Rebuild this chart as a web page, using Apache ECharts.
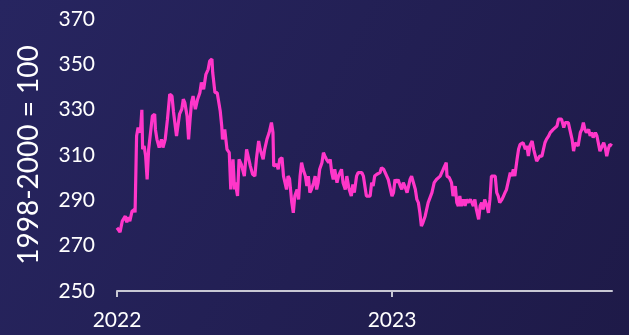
<!DOCTYPE html>
<html>
<head>
<meta charset="utf-8">
<script src="https://cdn.jsdelivr.net/npm/echarts@6/dist/echarts.min.js"></script>
<style>
html,body{margin:0;padding:0;background:#231f52;}
#chart{width:629px;height:335px;}
</style>
</head>
<body>
<div id="chart"></div>
<script>
// Days since 2022-01-01
const dayIndex = [0,4,7,11,13,15,17,20,23,24,26,28,31,33,34,36,38,40,42,44,47,50,51,53,56,59,61,64,67,70,73,75,79,83,86,88,90,93,95,97,99,101,104,107,110,112,115,118,121,123,126,127,130,133,137,139,140,143,146,149,151,154,156,157,160,162,165,169,172,175,177,180,183,185,188,190,192,194,196,199,202,205,207,208,212,214,216,219,221,223,225,227,229,232,234,236,239,241,243,245,247,250,252,254,256,258,261,263,265,267,269,272,274,276,278,281,283,285,287,289,292,294,296,298,300,303,305,308,311,313,315,318,320,325,327,329,331,333,336,338,340,342,345,347,349,351,354,356,358,360,362,365,367,369,371,373,376,378,380,382,385,387,389,391,393,396,398,400,402,404,406,409,413,418,421,424,429,431,433,437,438,441,444,446,449,451,453,455,457,460,462,464,466,469,471,473,475,477,480,482,484,486,488,491,493,495,497,499,502,504,506,508,511,513,515,517,519,522,524,526,528,531,533,535,537,539,542,544,546,548,551,553,555,557,559,561,564,566,568,570,573,575,577,579,581,584,586,588,590,593,595,597,599,601,604,606,608,610,612,615,617,619,621,623,626,628,630,632,635,637,639,641,643,646,648,650,652,654,657];
const indexValues = [277.9,276,280.8,283,280.3,282.5,280.8,285.2,286,284.7,318.4,322.1,319.9,329.9,312.5,314,309.5,299.2,312.5,318.4,327.2,328,321.3,316.9,313.3,316.9,313.3,316.9,325.8,336.8,336,329,318.4,328,330.2,334.6,333.1,327.2,316.9,325.8,333.3,336,330.2,334.6,337.5,342,339,345.6,347.8,351.5,352.3,346.4,337.5,337.5,329.4,322.8,316.9,321.3,312.5,311,294.8,308.1,294.8,297.9,291.9,308.1,305.9,300.7,312.5,308.1,305.1,301.5,300.7,308.1,316.2,312.5,312.5,308.1,312.5,316.9,319.9,324.3,319.9,305.1,305.9,303.7,308.1,308.8,300.7,297.8,294.8,300.7,299.5,289,284.5,291.9,294.8,290.4,300.7,306.6,303.7,300.7,296.3,300.7,293.4,294.8,297.8,300.7,294.8,297.8,303.7,306.6,311,309.5,308.1,306.6,308.1,302.2,299.2,303.7,297.8,300.7,302.2,303.7,297.8,294.8,300.7,295,291.9,297,293.4,300.7,302.2,302.2,300.7,300.7,291.9,291.2,291.9,297.8,296.3,300.7,301.5,300.7,302.2,304.4,303.7,303.7,300.7,299.2,296.3,291.9,293.4,299.2,297.8,299.2,296.3,294.8,297.8,296.3,293.4,296.3,299.2,300.7,300.7,294.8,290.4,289,284.5,278.6,280.1,283,289,293.4,297.8,299.2,300.7,302.2,303.7,306.6,300.7,300,297.8,291.9,296.3,289,287.5,291.9,287.5,290.4,287.5,290.4,289,290.4,289,287.5,290.4,286,281.6,287.5,289,286,290.4,287.5,284.5,290.4,300.7,301.5,300.7,293.4,291.9,289,290.4,291.9,293.4,294.8,297.8,302.2,300.7,303.7,300.7,308.1,312.5,314.7,314,315.4,312.5,314,309.5,314,316.2,312.5,312.5,307.3,307.3,309.5,309.5,312.5,315.4,316.9,318.4,319.9,320.6,321.3,321.3,322.8,325.8,326.5,325.8,322.1,324.3,323.5,324.3,321.3,316.9,311.7,315.4,314.7,314,319.9,321.3,324.3,321.3,319.9,321.3,318.4,319.9,317.7,319.9,318.4,318.4,311.7,311,315.4,313.3,309.5,312.5,314.7,314];
const yearTicks = [0, 365];
const yearLabels = ['2022', '2023'];
const yAxisTitle = '1998-2000 = 100';

const chart = echarts.init(document.getElementById('chart'), null, {renderer: 'canvas'});
const seriesData = dayIndex.map((d, i) => [d, indexValues[i]]);

chart.setOption({
  animation: false,
  backgroundColor: {
    type: 'linear', x: 0, y: 0, x2: 1, y2: 1,
    colorStops: [{offset: 0, color: '#272560'}, {offset: 1, color: '#1e1a48'}]
  },
  grid: {left: 117, right: 17, top: 19, bottom: 44, containLabel: false},
  xAxis: {
    type: 'value',
    min: 0,
    max: 657,
    interval: 365,
    axisLine: {show: true, lineStyle: {color: '#c8c8d4', width: 2}},
    axisTick: {show: true, length: 6, customValues: yearTicks, lineStyle: {color: '#c8c8d4', width: 2}},
    axisLabel: {
      customValues: yearTicks,
      margin: 19,
      color: '#ffffff',
      fontFamily: 'Lato',
      fontSize: 21,
      formatter: v => yearLabels[yearTicks.indexOf(v)] || ''
    },
    splitLine: {show: false}
  },
  yAxis: {
    type: 'value',
    min: 250,
    max: 370,
    interval: 20,
    name: yAxisTitle,
    nameLocation: 'middle',
    nameGap: 74,
    nameTextStyle: {color: '#ffffff', fontFamily: 'Lato', fontSize: 28},
    axisLine: {show: false},
    axisTick: {show: false},
    splitLine: {show: false},
    axisLabel: {color: '#ffffff', fontFamily: 'Lato', fontSize: 21, margin: 22}
  },
  series: [{
    type: 'line',
    data: seriesData,
    showSymbol: false,
    lineStyle: {color: '#ff36c9', width: 3.2},
    smooth: false
  }]
});
</script>
</body>
</html>
